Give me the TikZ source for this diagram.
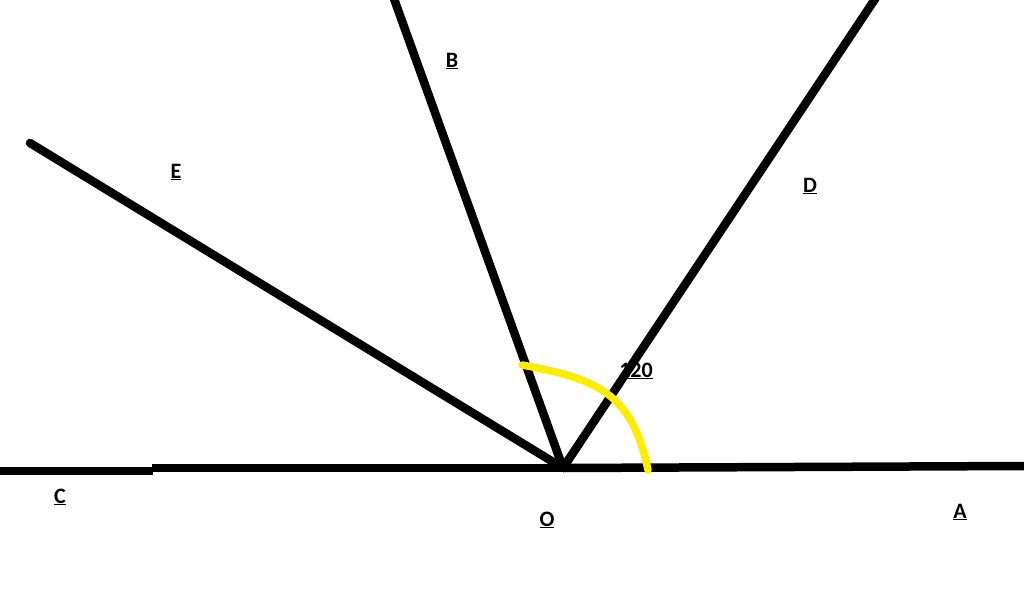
\documentclass[tikz,border=0pt]{standalone}
\usepackage{fontspec}
\setmainfont{Carlito}
\tikzset{
  ray/.style={line width=8.5pt},
  lbl/.style={font=\fontsize{22}{26}\selectfont\bfseries},
  arcmark/.style={line width=7.5pt, yellow!95!orange, line cap=round}
}
\newcommand{\lab}[1]{\underline{#1}}
\begin{document}
\begin{tikzpicture}[x=1pt,y=-1pt]
    \useasboundingbox (0,0) rectangle (1024,612);
    \coordinate (O) at (563,468);
    \coordinate (A) at (1024,466);
    \coordinate (C) at (0,471);
    \coordinate (Cm) at (152,468);
    \coordinate (B) at (393,-4);
    \coordinate (D) at (877,-4);
    \coordinate (E) at (30,143);

    \draw[ray] (C) -- (153,471);
    \draw[ray] (Cm) -- (582,468);
    \draw[ray] (O) -- (A);
    \draw[ray] (O) -- (B);
    \draw[ray] (O) -- (D);
    \draw[ray, line cap=round] (O) -- (E);

      \draw[arcmark] (522,365) .. controls (595,378) and (632,392) .. (648,470);

      \node[lbl] (labB) at (452,61) {\lab{B}};
      \node[lbl] (labE) at (176,172) {\lab{E}};
      \node[lbl] (labD) at (810,186) {\lab{D}};
      \node[lbl] (lab120) at (636,371) {\lab{120}};
      \node[lbl] (labC) at (60,497) {\lab{C}};
      \node[lbl] (labO) at (547,520) {\lab{O}};
      \node[lbl] (labA) at (960,512) {\lab{A}};
  \end{tikzpicture}
\end{document}
